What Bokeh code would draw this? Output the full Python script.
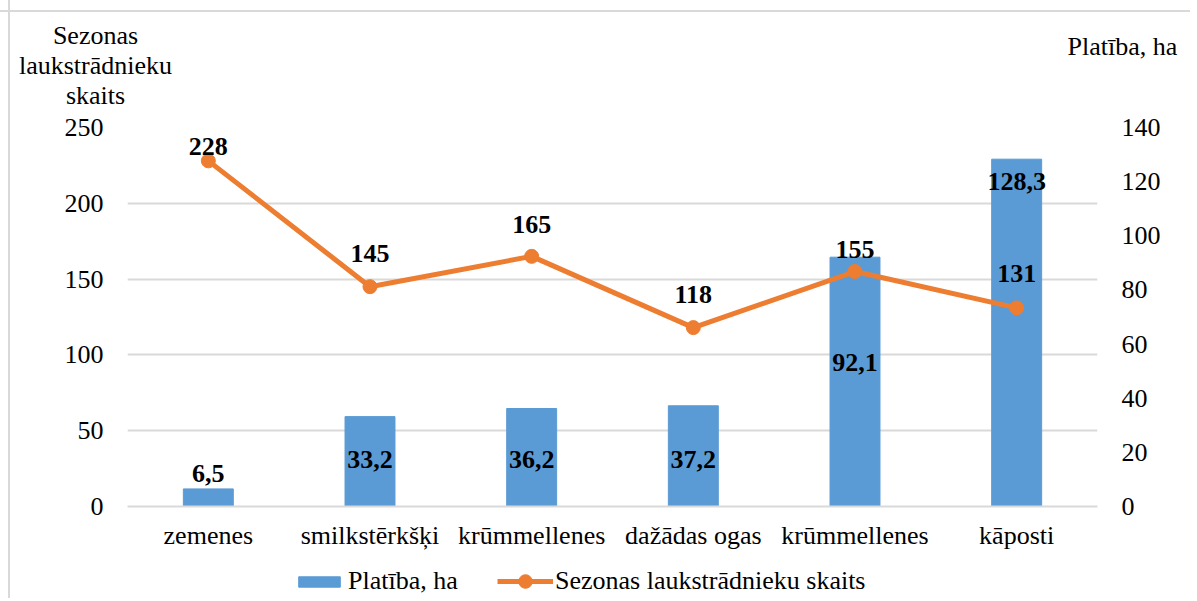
from bokeh.plotting import figure
from bokeh.layouts import column
from bokeh.models import ColumnDataSource, Range1d, LinearAxis, Label, Legend, LegendItem, FixedTicker
from bokeh.core.properties import value
from bokeh.embed import file_html
from bokeh.resources import INLINE

categories = ["zemenes", "smilkstērkšķi", "krūmmellenes", "dažādas ogas", "krūmmellenes", "kāposti"]
area_ha = [6.5, 33.2, 36.2, 37.2, 92.1, 128.3]
workers = [228, 145, 165, 118, 155, 131]
area_labels = ["6,5", "33,2", "36,2", "37,2", "92,1", "128,3"]
worker_labels = ["228", "145", "165", "118", "155", "131"]
left_ticks = [0, 50, 100, 150, 200, 250]
right_ticks = [0, 20, 40, 60, 80, 100, 120, 140]
left_title = ["Sezonas", "laukstrādnieku", "skaits"]
right_title = "Platība, ha"
series_names = ["Platība, ha", "Sezonas laukstrādnieku skaits"]

# label placement (layout only)
bar_label_y = [12.2, 17.4, 17.4, 17.4, 53.2, 119.9]
line_label_off = [-14, -33, -32, -33, -22, -34]

FONT = "Liberation Serif"
FS = "26px"
BLUE = "#5B9BD5"
ORANGE = "#ED7D31"
GRID = "#D9D9D9"
W = 1190
TOTAL = 598

def bare(fig):
    fig.outline_line_color = None
    fig.grid.grid_line_color = None
    fig.background_fill_color = None
    fig.border_fill_color = None

# ---------- top strip with axis titles ----------
TOP_H = 113
top = figure(width=W, height=TOP_H, output_backend="svg", toolbar_location=None,
             x_range=Range1d(0, W), y_range=Range1d(0, TOP_H),
             x_axis_location=None, y_axis_location=None, frame_align=False,
             min_border_left=0, min_border_right=0, min_border_top=0, min_border_bottom=0)
bare(top)
baselines = [35, 65, 95]
for t, b in zip(left_title, baselines):
    top.add_layout(Label(x=95, y=TOP_H - b, x_units="screen", y_units="screen", text=t,
                         text_align="center", text_baseline="alphabetic", text_font=FONT,
                         text_font_size=FS, text_color="black"))
top.add_layout(Label(x=1122, y=TOP_H - 46, x_units="screen", y_units="screen", text=right_title,
                     text_align="center", text_baseline="alphabetic", text_font=FONT,
                     text_font_size=FS, text_color="black"))

# ---------- main chart ----------
x = list(range(1, len(categories) + 1))
src = ColumnDataSource(dict(x=x, area=area_ha, workers=workers, al=area_labels, wl=worker_labels,
                            aly=bar_label_y, lo=line_label_off))

MB_TOP = 127 - TOP_H
MB_BOT = 50
MAIN_H = MB_TOP + 379 + MB_BOT
p = figure(width=W, height=MAIN_H, output_backend="svg", toolbar_location=None,
           x_range=Range1d(0.5, 6.5), y_range=Range1d(0, 250), frame_align=False,
           min_border_left=127, min_border_right=W - 1097, min_border_top=MB_TOP,
           min_border_bottom=MB_BOT)
p.extra_y_ranges = {"right": Range1d(0, 140)}
p.outline_line_color = None
p.background_fill_color = None
p.border_fill_color = None

p.vbar(x="x", top="area", width=0.309, source=src, color=BLUE, y_range_name="right")
p.line(x="x", y="workers", source=src, line_color=ORANGE, line_width=5)
p.scatter(x="x", y="workers", source=src, size=14, color=ORANGE)

p.text(x="x", y="aly", text="al", source=src, y_range_name="right", text_align="center",
       text_baseline="middle", text_font=value(FONT), text_font_style="bold",
       text_font_size=FS, text_color="black")
p.text(x="x", y="workers", text="wl", source=src, y_offset="lo", text_align="center",
       text_baseline="middle", text_font=value(FONT), text_font_style="bold",
       text_font_size=FS, text_color="black")

def style_axis(ax, standoff):
    ax.axis_line_color = None
    ax.major_tick_line_color = None
    ax.minor_tick_line_color = None
    ax.major_label_text_font = FONT
    ax.major_label_text_font_size = FS
    ax.major_label_text_color = "black"
    ax.major_label_standoff = standoff

yax = p.yaxis[0]
yax.ticker = FixedTicker(ticks=left_ticks)
style_axis(yax, 18)

rax = LinearAxis(y_range_name="right", ticker=FixedTicker(ticks=right_ticks))
style_axis(rax, 18)
p.add_layout(rax, "right")

xax = p.xaxis[0]
xax.ticker = FixedTicker(ticks=x)
xax.major_label_overrides = {i: c for i, c in zip(x, categories)}
style_axis(xax, 8)
xax.axis_line_color = GRID
xax.axis_line_width = 2

p.xgrid.grid_line_color = None
p.ygrid.grid_line_color = GRID
p.ygrid.grid_line_width = 2

# ---------- bottom strip with legend ----------
BOT_H = TOTAL - (TOP_H + MAIN_H)
bot = figure(width=W, height=BOT_H, output_backend="svg", toolbar_location=None,
             x_range=Range1d(0, 1), y_range=Range1d(0, 1),
             x_axis_location=None, y_axis_location=None, frame_align=False,
             min_border_left=0, min_border_right=0, min_border_top=0, min_border_bottom=0)
bare(bot)
lb = bot.vbar(x=[-5], top=[-5], width=0.3, color=BLUE)
ll = bot.line(x=[-5, -4], y=[-5, -5], line_color=ORANGE, line_width=5)
ls = bot.scatter(x=[-5], y=[-5], size=14, color=ORANGE)

LEG_CY = 581
ROW = 34
leg_y = (TOTAL - LEG_CY) - ROW // 2
leg1 = Legend(items=[LegendItem(label=series_names[0], renderers=[lb])],
              location=(293, leg_y),
              label_text_font=FONT, label_text_font_size=FS, label_text_color="black",
              glyph_width=52, glyph_height=13, label_standoff=3, label_height=ROW,
              border_line_color=None, background_fill_alpha=0, padding=0, margin=0)
leg2 = Legend(items=[LegendItem(label=series_names[1], renderers=[ll, ls])],
              location=(497, leg_y),
              label_text_font=FONT, label_text_font_size=FS, label_text_color="black",
              glyph_width=56, glyph_height=ROW, label_standoff=2,
              border_line_color=None, background_fill_alpha=0, padding=0, margin=0)
bot.add_layout(leg1, "center")
bot.add_layout(leg2, "center")

frame_css = {
    "background-image": ("linear-gradient(to right, transparent 8px, #D9D9D9 8px, #D9D9D9 10px, transparent 10px), "
                         "linear-gradient(to bottom, transparent 10px, #D9D9D9 10px, #D9D9D9 12px, transparent 12px)"),
    "background-color": "white",
}
layout = column(top, p, bot, spacing=0, styles=frame_css)
open("out.html", "w").write(file_html(layout, INLINE))
